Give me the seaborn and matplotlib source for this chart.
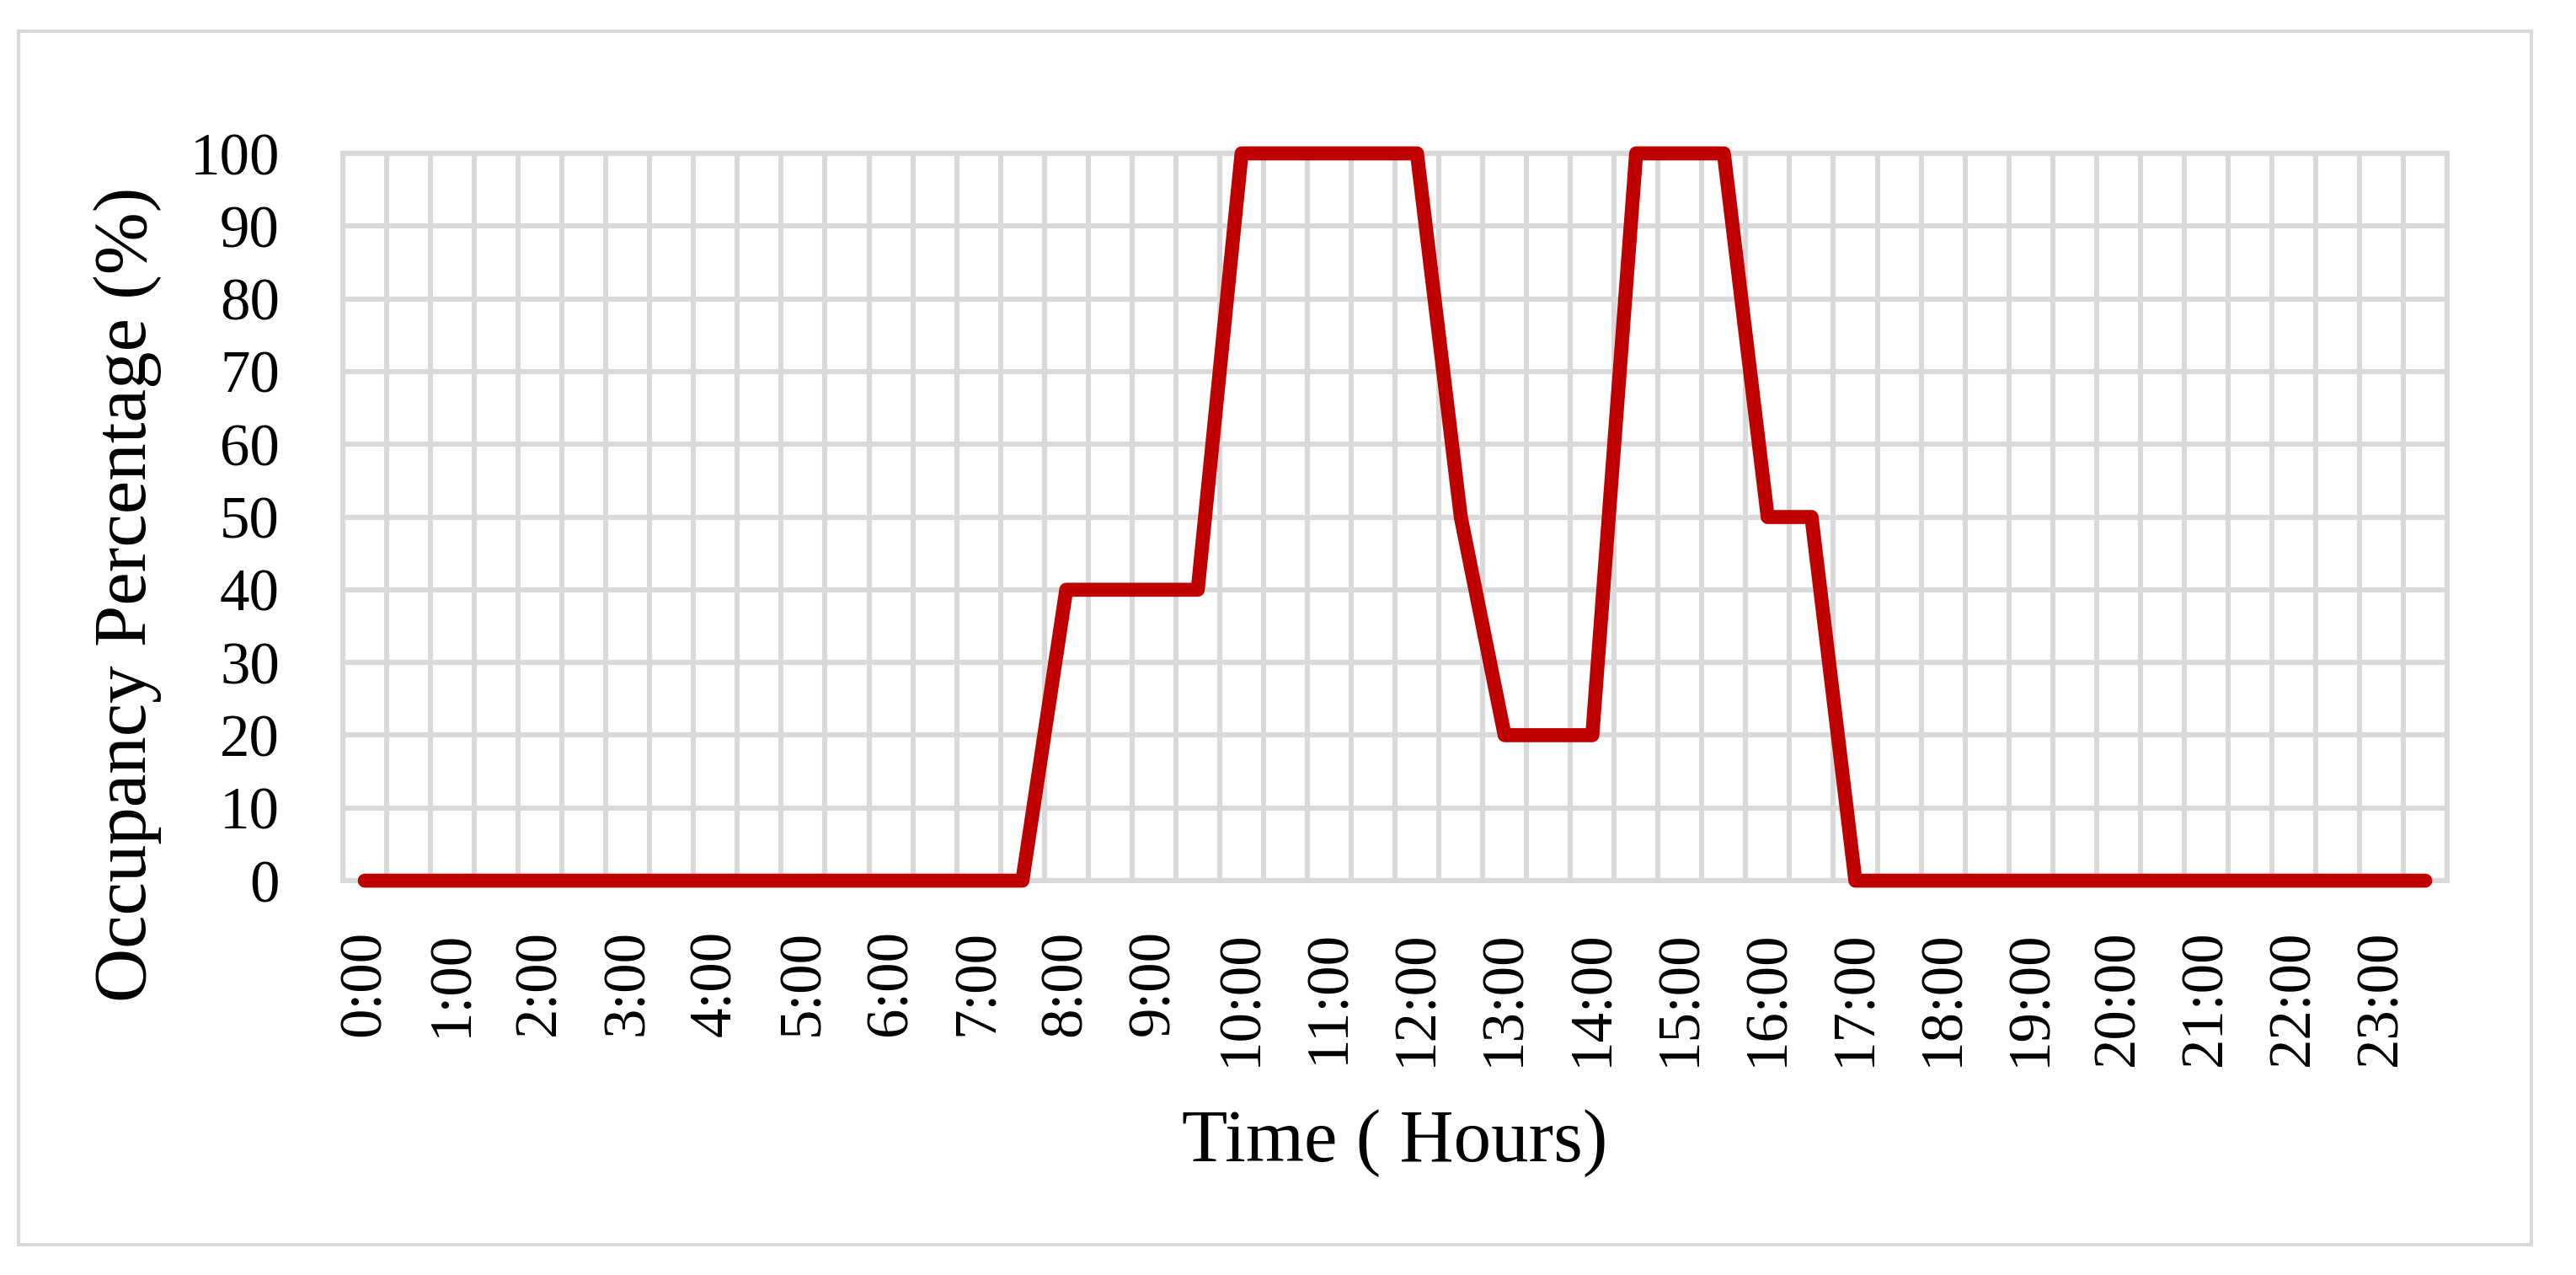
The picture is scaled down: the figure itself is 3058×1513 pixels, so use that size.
import numpy as np
import pandas as pd
import seaborn as sns
import matplotlib.pyplot as plt
from matplotlib.patches import Rectangle

# half-hour slots of the day
times = ["0:00", "0:30", "1:00", "1:30", "2:00", "2:30", "3:00", "3:30",
         "4:00", "4:30", "5:00", "5:30", "6:00", "6:30", "7:00", "7:30",
         "8:00", "8:30", "9:00", "9:30", "10:00", "10:30", "11:00", "11:30",
         "12:00", "12:30", "13:00", "13:30", "14:00", "14:30", "15:00", "15:30",
         "16:00", "16:30", "17:00", "17:30", "18:00", "18:30", "19:00", "19:30",
         "20:00", "20:30", "21:00", "21:30", "22:00", "22:30", "23:00", "23:30"]

occupancy = [0, 0, 0, 0, 0, 0, 0, 0,
             0, 0, 0, 0, 0, 0, 0, 0,
             40, 40, 40, 40, 100, 100, 100, 100,
             100, 50, 20, 20, 20, 100, 100, 100,
             50, 50, 0, 0, 0, 0, 0, 0,
             0, 0, 0, 0, 0, 0, 0, 0]

y_ticks = [0, 10, 20, 30, 40, 50, 60, 70, 80, 90, 100]

RED = "#C00000"
GRID = "#D9D9D9"

df = pd.DataFrame({"slot": np.arange(len(times)), "time": times, "occ": occupancy})

sns.set_theme(style="white")
plt.rcParams["font.family"] = ["Liberation Serif", "DejaVu Serif"]

fig = plt.figure(figsize=(15.29, 7.565), dpi=200)
ax = fig.add_axes([0.1331, 0.3093, 0.8169, 0.5704])

sns.lineplot(data=df, x="slot", y="occ", ax=ax, color=RED, linewidth=6.0,
             solid_capstyle="round", solid_joinstyle="round", clip_on=False,
             zorder=5)

ax.set_xlim(-0.5, len(times) - 0.5)
ax.set_ylim(0, 100)
ax.set_yticks(y_ticks)

# hour labels on every other slot, grid at slot boundaries
ax.set_xticks(df["slot"][::2])
ax.set_xticklabels(df["time"][::2], rotation=90)
ax.set_xticks(np.arange(-0.5, len(times), 1), minor=True)

ax.grid(False)
ax.grid(True, which="minor", axis="x", color=GRID, linewidth=2.2)
ax.grid(True, which="major", axis="y", color=GRID, linewidth=2.2)
ax.set_axisbelow(True)

for sp in ax.spines.values():
    sp.set_visible(True)
    sp.set_color(GRID)
    sp.set_linewidth(2.2)
    sp.set_zorder(0.5)

ax.tick_params(axis="x", which="both", length=0, pad=21, labelsize=25.5, colors="black")
ax.tick_params(axis="y", which="both", length=0, pad=27, labelsize=25.5, colors="black")

ax.set_xlabel("Time ( Hours)", fontsize=32, color="black")
ax.set_ylabel("Occupancy Percentage (%)", fontsize=32, color="black")
ax.xaxis.set_label_coords(0.5, -0.314)
ax.yaxis.set_label_coords(-0.086, 0.394)

# light chart-area frame
fig.patches.append(Rectangle((0.0072, 0.0238), 0.9755, 0.9517, transform=fig.transFigure,
                             fill=False, edgecolor=GRID, linewidth=1.5))

fig.savefig("out.png", dpi=200, facecolor="white")
